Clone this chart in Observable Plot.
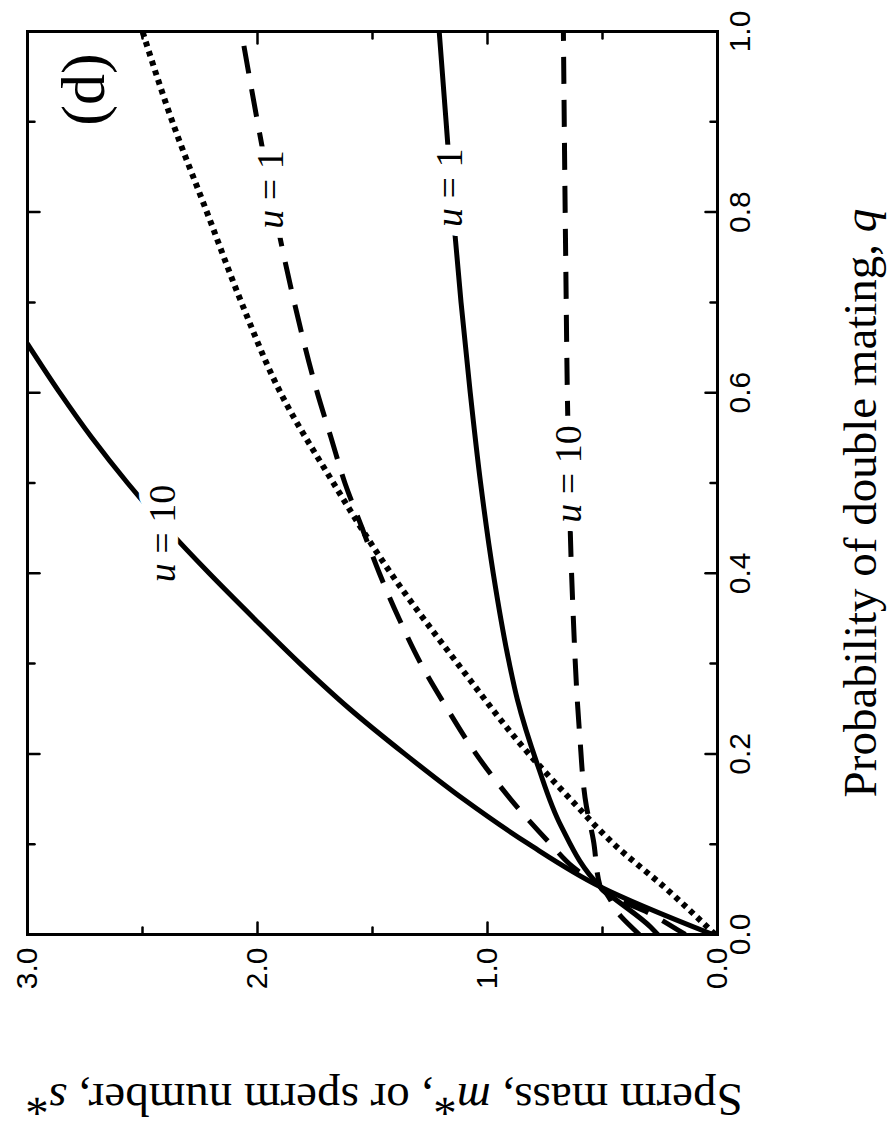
<!DOCTYPE html>
<html><head><meta charset="utf-8">
<script src="https://cdn.jsdelivr.net/npm/d3@7"></script>
<script src="https://cdn.jsdelivr.net/npm/@observablehq/plot@0.6"></script>
<style>
html,body{margin:0;padding:0;background:#fff;}
body{width:894px;height:1124px;overflow:hidden;position:relative;}
#wrap{position:absolute;left:0;top:0;width:1124px;height:894px;transform-origin:0 0;transform:translate(0px,1124px) rotate(-90deg);}
#wrap svg{position:absolute;left:0;top:0;}
.title{position:absolute;font-family:"Liberation Serif","Times New Roman",serif;font-size:47px;line-height:40px;height:40px;white-space:nowrap;text-align:center;color:#000;}
</style></head><body><div id="wrap"></div>
<script>
// ---- data (q = probability of double mating, v = sperm mass / number) ----
const qDotted = [0, 0.05, 0.1, 0.15, 0.2, 0.3, 0.4, 0.5, 0.6, 0.7, 0.8, 0.9, 1.0];
const vDotted = [0.01, 0.22, 0.45, 0.64, 0.82, 1.13, 1.42, 1.67, 1.90, 2.07, 2.22, 2.37, 2.50];

const qDashU1 = [0, 0.02, 0.053, 0.075, 0.1, 0.15, 0.2, 0.25, 0.3, 0.35, 0.4, 0.45, 0.5, 0.55, 0.6, 0.7, 0.8, 0.9, 1.0];
const vDashU1 = [0.34, 0.42, 0.51, 0.63, 0.725, 0.90, 1.05, 1.175, 1.29, 1.385, 1.47, 1.545, 1.62, 1.68, 1.74, 1.84, 1.925, 2.0, 2.07];

const qSolidU1 = [0, 0.008, 0.053, 0.12, 0.186, 0.26, 0.3, 0.4, 0.5, 0.6, 0.7, 0.8, 0.9, 1.0];
const vSolidU1 = [0.26, 0.29, 0.51, 0.68, 0.78, 0.87, 0.905, 0.975, 1.03, 1.075, 1.115, 1.15, 1.18, 1.21];

const qSolidU10 = [0, 0.053, 0.1, 0.15, 0.2, 0.25, 0.3, 0.35, 0.4, 0.45, 0.5, 0.55, 0.6, 0.654];
const vSolidU10 = [0.02, 0.51, 0.82, 1.105, 1.36, 1.60, 1.815, 2.015, 2.21, 2.395, 2.565, 2.72, 2.86, 3.0];

const qDashU10 = [0, 0.02, 0.053, 0.105, 0.142, 0.224, 0.37, 0.559, 0.75, 1.0];
const vDashU10 = [0.14, 0.27, 0.51, 0.54, 0.57, 0.60, 0.63, 0.65, 0.66, 0.67];

const labelQ = [0.444, 0.825, 0.827, 0.51];
const labelV = [2.41, 1.94, 1.165, 0.645];
const labelText = ["u = 10", "u = 1", "u = 1", "u = 10"];

const qMajorTicks = [0, 0.2, 0.4, 0.6, 0.8, 1.0];
const qMinorTicks = [0.1, 0.3, 0.5, 0.7, 0.9];
const vMajorTicks = [0, 1, 2, 3];
const vMinorTicks = [0.5, 1.5, 2.5];

const panelLabel = "(d)";
// --------------------------------------------------------------------------

const rows = (q, v) => q.map((d, i) => ({q: d, v: v[i]}));
const labels = labelQ.map((d, i) => ({q: d, v: labelV[i], t: labelText[i]}));
const serif = "'Liberation Serif','Times New Roman',serif";
const tickShape = {draw(ctx, l) { ctx.moveTo(0, 0); ctx.lineTo(0, -l); }};
const tick = (data, ch, anchor, rot, len) =>
  Plot.vector(data, {[ch]: d => d, frameAnchor: anchor, rotate: rot, length: len, anchor: "start",
    shape: tickShape, stroke: "black", strokeWidth: 2.5});

const lineOpts = {x: "q", y: "v", stroke: "black", strokeWidth: 5, curve: "monotone-x", clip: true};

const svg = Plot.plot({
  width: 1124, height: 894,
  marginLeft: 189, marginRight: 32, marginTop: 27, marginBottom: 177,
  x: {domain: [0, 1]},
  y: {domain: [0, 3]},
  style: {fontFamily: "'Liberation Sans', Arial, sans-serif", fontSize: "30px", background: "white", color: "black", overflow: "visible"},
  marks: [
    Plot.line(rows(qDotted, vDotted), {...lineOpts, strokeWidth: 6, strokeDasharray: "5,5", strokeLinecap: "butt"}),
    Plot.line(rows(qDashU1, vDashU1), {...lineOpts, strokeDasharray: "28,16", strokeLinecap: "butt"}),
    Plot.line(rows(qDashU10, vDashU10), {...lineOpts, strokeDasharray: "27,16", strokeLinecap: "butt"}),
    Plot.line(rows(qSolidU1, vSolidU1), lineOpts),
    Plot.line(rows(qSolidU10, vSolidU10), lineOpts),
    Plot.text(labels, {x: "q", y: "v", text: "t", fontSize: 38, fontFamily: serif, fill: "black",
      stroke: "white", strokeWidth: 22, strokeLinejoin: "round", paintOrder: "stroke"}),
    Plot.frame({stroke: "black", strokeWidth: 3}),
    tick(qMajorTicks, "x", "bottom", 0, 12),
    tick(qMinorTicks, "x", "bottom", 0, 7),
    tick(qMajorTicks, "x", "top", 180, 12),
    tick(qMinorTicks, "x", "top", 180, 7),
    tick(vMajorTicks, "y", "left", 90, 12),
    tick(vMinorTicks, "y", "left", 90, 7),
    tick(vMajorTicks, "y", "right", -90, 12),
    tick(vMinorTicks, "y", "right", -90, 7),
    Plot.axisX(qMajorTicks, {tickSize: 0, tickPadding: 11, tickFormat: d3.format(".1f"), label: null}),
    Plot.axisY(vMajorTicks, {tickSize: 0, tickPadding: 13, tickFormat: d3.format(".1f"), label: null}),
    Plot.text([panelLabel], {frameAnchor: "top-right", textAnchor: "middle", lineAnchor: "middle",
      dx: -58, dy: 57, fontSize: 62, fontFamily: serif, fill: "black"})
  ]
});

// italic "u" in curve labels
const NS = "http://www.w3.org/2000/svg";
svg.querySelectorAll("text").forEach(t => {
  if (t.textContent.startsWith("u =")) {
    const rest = t.textContent.slice(1);
    t.textContent = "";
    const a = document.createElementNS(NS, "tspan");
    a.setAttribute("font-style", "italic");
    a.textContent = "u";
    t.appendChild(a);
    t.appendChild(document.createTextNode(rest));
  }
});

const wrap = document.getElementById("wrap");
wrap.appendChild(svg);

const xTitle = document.createElement("div");
xTitle.className = "title";
xTitle.style.left = "221px"; xTitle.style.top = "840px"; xTitle.style.width = "800px";
xTitle.innerHTML = "Probability of double mating, <i>q</i>";
wrap.appendChild(xTitle);

const yTitle = document.createElement("div");
yTitle.className = "title";
yTitle.style.left = "-376px"; yTitle.style.top = "364px"; yTitle.style.width = "800px";
yTitle.style.transform = "rotate(-90deg)";
yTitle.innerHTML = "Sperm mass, <i>m</i>*, or sperm number, <i>s</i>*";
wrap.appendChild(yTitle);
</script>
</body></html>
